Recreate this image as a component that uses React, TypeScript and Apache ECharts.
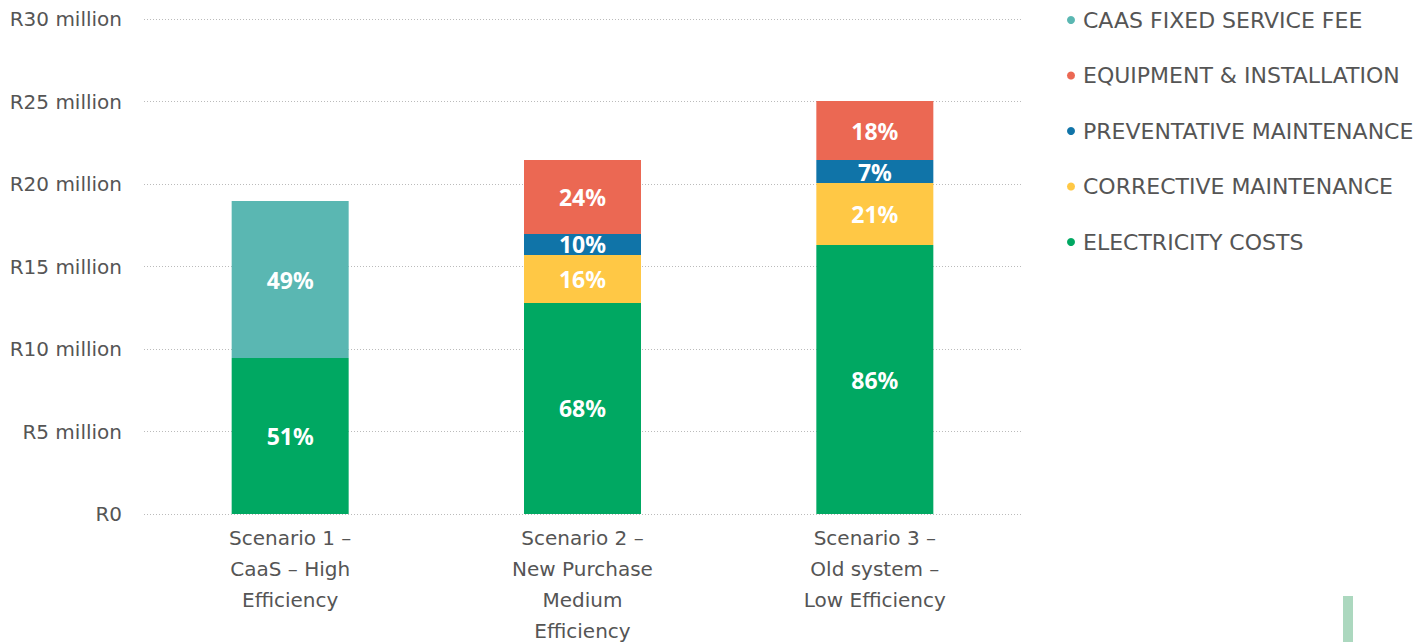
import React, { useEffect, useRef } from "react";
import * as echarts from "echarts";

const categories = [
  "Scenario 1 –\nCaaS – High\nEfficiency",
  "Scenario 2 –\nNew Purchase\nMedium\nEfficiency",
  "Scenario 3 –\nOld system –\nLow Efficiency",
];

// values in R million
const electricity = [9.45, 12.79, 16.3];
const corrective = [null, 2.91, 3.76];
const preventative = [null, 1.27, 1.39];
const equipment = [null, 4.48, 3.58];
const caas = [9.52, null, null];

const electricityLabels = ["51%", "68%", "86%"];
const correctiveLabels = ["", "16%", "21%"];
const preventativeLabels = ["", "10%", "7%"];
const equipmentLabels = ["", "24%", "18%"];
const caasLabels = ["49%", "", ""];

const yTicks = [0, 5, 10, 15, 20, 25, 30];

const FONT = "'DejaVu Sans', sans-serif";
const LABEL_FONT = "'Noto Sans', sans-serif";

export default function App() {
  const ref = useRef<HTMLDivElement>(null);
  useEffect(() => {
    if (!ref.current) return;
    const chart = echarts.init(ref.current, null, { renderer: "svg" });
    const mk = (name: string, data: any[], labels: string[], color: string) => ({
      name,
      type: "bar",
      stack: "total",
      data,
      barWidth: 117,
      itemStyle: { color },
      label: {
        show: true,
        position: "inside",
        color: "#fff",
        fontSize: 23,
        fontWeight: "bold",
        fontFamily: LABEL_FONT,
        formatter: (p: any) => labels[p.dataIndex] || "",
      },
    });
    chart.setOption({
      animation: false,
      textStyle: { fontFamily: FONT },
      grid: {
        left: 144,
        right: 403,
        top: 19,
        bottom: 128,
        containLabel: false,
        outerBoundsMode: "none",
      },
      legend: {
        orient: "vertical",
        left: 1062,
        top: 4,
        icon: "circle",
        itemWidth: 8,
        itemHeight: 8,
        itemGap: 33.5,
        data: [
          "CAAS FIXED SERVICE FEE",
          "EQUIPMENT & INSTALLATION",
          "PREVENTATIVE MAINTENANCE",
          "CORRECTIVE MAINTENANCE",
          "ELECTRICITY COSTS",
        ],
        textStyle: { color: "#555", fontSize: 22, fontFamily: FONT, padding: [0, 0, 0, 3] },
      },
      xAxis: {
        type: "category",
        data: categories,
        axisLine: { show: false },
        axisTick: { show: false },
        axisLabel: {
          color: "#555",
          fontSize: 20,
          lineHeight: 31,
          margin: 8,
          fontFamily: FONT,
        },
      },
      yAxis: {
        type: "value",
        min: 0,
        max: 30,
        interval: 5,
        axisLine: { show: false },
        axisTick: { show: false },
        splitLine: { lineStyle: { color: "#bbb", type: [1, 2], width: 1 } },
        axisLabel: {
          color: "#555",
          fontSize: 20,
          margin: 22,
          fontFamily: FONT,
          formatter: (v: number) => (yTicks.includes(v) ? (v === 0 ? "R0" : `R${v} million`) : ""),
        },
      },
      series: [
        mk("ELECTRICITY COSTS", electricity, electricityLabels, "#00a862"),
        mk("CORRECTIVE MAINTENANCE", corrective, correctiveLabels, "#ffc845"),
        mk("PREVENTATIVE MAINTENANCE", preventative, preventativeLabels, "#1074a8"),
        mk("EQUIPMENT & INSTALLATION", equipment, equipmentLabels, "#eb6853"),
        mk("CAAS FIXED SERVICE FEE", caas, caasLabels, "#5ab7b2"),
      ],
      graphic: [
        {
          type: "rect",
          shape: { x: 1343, y: 596, width: 10, height: 46 },
          style: { fill: "#acd8bf" },
        },
      ],
    });
    return () => chart.dispose();
  }, []);
  return (
    <div
      ref={ref}
      style={{ position: "absolute", left: 0, top: 0, width: 1424, height: 642 }}
    />
  );
}
